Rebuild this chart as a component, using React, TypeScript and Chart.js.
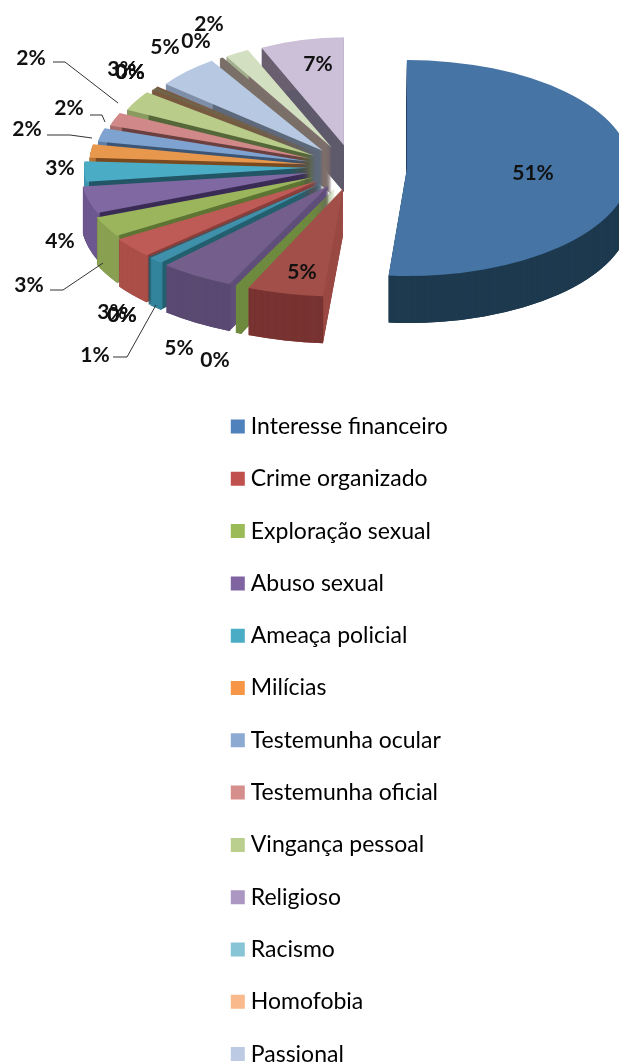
import React, { useEffect, useRef } from "react";
import { Chart, registerables } from "chart.js";

Chart.register(...registerables);

const legendNames = [
  "Interesse financeiro", "Crime organizado", "Exploração sexual", "Abuso sexual",
  "Ameaça policial", "Milícias", "Testemunha ocular", "Testemunha oficial",
  "Vingança pessoal", "Religioso", "Racismo", "Homofobia", "Passional",
];
const legendColors = [
  "#4F81BD", "#C0504D", "#9BBB59", "#8064A2", "#4BACC6", "#F79646", "#8DAAD3",
  "#D58E8C", "#BACF8E", "#AB97C2", "#87C4D6", "#F9B98A", "#BCCBE3",
];
const sliceValues = [51, 5, 0.4, 5, 1, 0.05, 0.05, 3, 3, 4, 3, 2, 2, 2, 3, 0.2, 0.2, 0.2, 5, 0.3, 2, 7];
const topColors = [
  "#4574A5", "#A24E49", "#6E8A3E", "#745F8C", "#3F90AA", "#24606F", "#24606F", "#BF5B57",
  "#9BB55D", "#8068A2", "#4BACC6", "#E8984C", "#7FA3D0", "#D08888", "#B9CC8A", "#7A5A40",
  "#6A6A50", "#7A5A40", "#B7C9E2", "#7A7068", "#D2DFC0", "#CBC0D8",
];
const wallColors = [
  "#1E3A4F", "#773331", "#6E8A3E", "#5A4A72", "#33849C", "#24606F", "#24606F", "#AB4F48",
  "#8AA052", "#6E5890", "#3E95AD", "#B87333", "#5F7FA8", "#A66B6B", "#8A9B60", "#7A5A40",
  "#6A6A50", "#7A5A40", "#7F8FA8", "#7A7068", "#A3B090", "#6A6070",
];
const cutColors = [
  "#1E3A4F", "#9A4A44", "#6E8A3E", "#5F4D7A", "#24606F", "#24606F", "#24606F", "#8E3F3B",
  "#5E7534", "#3A2C55", "#235665", "#7A4A20", "#3D5675", "#6B4040", "#56683A", "#7A5A40",
  "#6A6A50", "#7A5A40", "#5E6A7C", "#7A7068", "#7E6F6C", "#5F5A6B",
];
const labelCenters = [
  [533, 173], [302, 272], [215, 360], [179, 348], [95, 355], [122, 315], [122, 315],
  [112, 312], [29, 285], [60, 241], [60, 168], [27, 129], [69, 108], [31, 58], [122, 69],
  [130, 72], [130, 72], [130, 72], [165, 47], [196, 41], [209, 24], [318, 64],
];
const leaderLines = [
  [[113, 357], [127, 357], [156, 305]],
  [[50, 290], [63, 290], [103, 263]],
  [[47, 135], [70, 135], [92, 138]],
  [[90, 115], [102, 115], [105, 122]],
  [[53, 62], [65, 62], [118, 103]],
];

const pieCenter = { x: 354, y: 167 };
const pieRadius = 223;
const squash = 0.484;
const explode = 46;
const blueExplode = 53;
const perspectiveFront = 0.1;
const perspectiveBack = 0.14;
const depth = 47;

const pie3d = {
  id: "pie3d",
  afterLayout(chart: any) {
    chart.legend.top = 385.7;
    chart.legend.bottom = 1140;
  },
  beforeDatasetDraw(chart: any, args: any) {
    const ctx = chart.ctx;
    const order = args.meta.data
      .map((arc: any, i: number) => ({ arc, i, mid: (arc.startAngle + arc.endAngle) / 2 }))
      .sort((a: any, b: any) => Math.sin(a.mid) - Math.sin(b.mid));
    for (const { arc, i, mid } of order) {
      const base = arc.options;
      const shift = i === 0 ? blueExplode : explode;
      const s = Math.sin(mid);
      const widen = 1 + (s > 0 ? perspectiveFront : perspectiveBack) * s;
      const paint = (drop: number, color: string) => {
        arc.options = Object.create(base, { backgroundColor: { value: color } });
        ctx.save();
        ctx.translate(pieCenter.x, pieCenter.y + drop);
        ctx.scale(1, squash);
        ctx.translate(Math.cos(mid) * shift, Math.sin(mid) * shift);
        ctx.scale(widen, 1);
        ctx.translate(-arc.x, -arc.y);
        arc.draw(ctx);
        ctx.restore();
      };
      for (let d = depth; d > 0; d--) paint(d, cutColors[i]);
      const inner = arc.innerRadius;
      arc.innerRadius = arc.outerRadius - 3;
      for (let d = depth; d > 0; d--) paint(d, wallColors[i]);
      arc.innerRadius = inner;
      paint(0, topColors[i]);
      arc.options = base;
    }
    return false;
  },
  afterDraw(chart: any) {
    const ctx = chart.ctx;
    ctx.save();
    ctx.strokeStyle = "#333333";
    ctx.lineWidth = 1;
    for (const line of leaderLines) {
      ctx.beginPath();
      line.forEach(([x, y], k) => (k ? ctx.lineTo(x, y) : ctx.moveTo(x, y)));
      ctx.stroke();
    }
    ctx.font = 'bold 21px Lato';
    ctx.fillStyle = "#111111";
    ctx.textAlign = "center";
    ctx.textBaseline = "middle";
    sliceValues.forEach((v, i) => {
      const [x, y] = labelCenters[i];
      ctx.fillText(`${Math.round(v)}%`, x, y);
    });
    ctx.restore();
  },
};

export default function App() {
  const ref = useRef<HTMLCanvasElement>(null);
  useEffect(() => {
    const chart = new Chart(ref.current!, {
      type: "pie",
      data: {
        labels: legendNames,
        datasets: [{ data: sliceValues, backgroundColor: topColors, borderWidth: 0, radius: pieRadius } as any],
      },
      options: {
        responsive: false,
        animation: false,
        events: [],
        layout: { padding: { top: 415, left: 207, right: 0, bottom: 0 } },
        plugins: {
          tooltip: { enabled: false },
          legend: {
            position: "chartArea" as any,
            align: "start",
            labels: {
              boxWidth: 3,
              boxHeight: 14,
              padding: 29.3,
              usePointStyle: true,
              pointStyle: "rect",
              color: "#222222",
              font: { family: "Lato", size: 23 },
              generateLabels: () =>
                legendNames.map((text, i) => ({
                  text,
                  fillStyle: legendColors[i],
                  strokeStyle: legendColors[i],
                  lineWidth: 0,
                  hidden: false,
                  index: i,
                  pointStyle: "rect",
                })),
            },
          },
        },
      },
      plugins: [pie3d],
    });
    return () => chart.destroy();
  }, []);
  return (
    <div style={{ position: "absolute", left: 0, top: 0, width: 619, height: 1064, overflow: "hidden", background: "#fff" }}>
      <canvas ref={ref} width={619} height={1140} style={{ display: "block", filter: "blur(0.6px)" }} />
    </div>
  );
}
